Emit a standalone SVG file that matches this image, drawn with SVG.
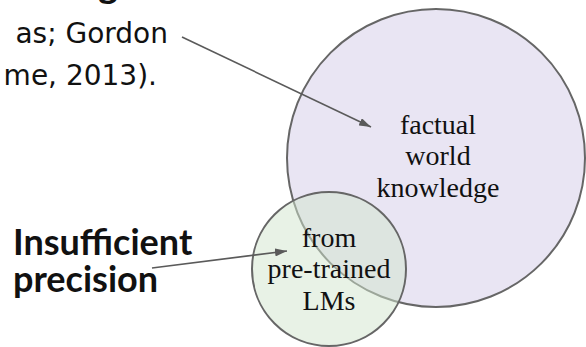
<svg xmlns="http://www.w3.org/2000/svg" width="586" height="347" viewBox="0 0 586 347">
  <style>
    .sans { font-family: "Lato", "Open Sans", "Liberation Sans", sans-serif; fill: #111; }
    .cite { font-family: "DejaVu Sans", "Liberation Sans", sans-serif; fill: #111; font-size: 28px; text-anchor: end; }
    .bold { font-weight: bold; }
    .serif { font-family: "Liberation Serif", "DejaVu Serif", serif; font-size: 28px; fill: #111; text-anchor: middle; }
    .conn { stroke: #5a5a5a; stroke-width: 1.6; fill: none; marker-end: url(#head); }
  </style>
  <defs>
    <marker id="head" viewBox="0 0 12 8" refX="12" refY="4" markerWidth="12" markerHeight="8" markerUnits="userSpaceOnUse" orient="auto">
      <path d="M0,0 L12,4 L0,8 Z" fill="#5a5a5a"/>
    </marker>
  </defs>
  <rect width="586" height="347" fill="#ffffff"/>

  <!-- large set: factual world knowledge -->
  <g id="world-knowledge">
    <circle cx="436" cy="158" r="149" fill="#e9e5f3" stroke="#666666" stroke-width="2"/>
    <text class="serif" x="438" y="134">factual</text>
    <text class="serif" x="438" y="165">world</text>
    <text class="serif" x="438" y="197">knowledge</text>
  </g>

  <!-- small set: knowledge from pre-trained LMs -->
  <g id="pretrained-lms">
    <circle cx="329" cy="269" r="77" fill="#d1e5cd" fill-opacity="0.5" stroke="#666666" stroke-width="2"/>
    <text class="serif" x="329" y="247">from</text>
    <text class="serif" x="329" y="278">pre-trained</text>
    <text class="serif" x="329" y="310">LMs</text>
  </g>

  <!-- citation text -->
  <g id="citation">
    <text class="sans bold" x="118" y="-2" font-size="38" text-anchor="end">g</text>
    <text class="cite" x="168" y="43">as; Gordon</text>
    <text class="cite" x="157" y="85">me, 2013).</text>
  </g>

  <!-- precision label -->
  <g id="precision">
    <text class="sans bold" x="13" y="255" font-size="36">Insufficient</text>
    <text class="sans bold" x="13" y="292" font-size="36">precision</text>
  </g>

  <g id="connectors">
    <line class="conn" x1="182" y1="37" x2="371" y2="127"/>
    <line class="conn" x1="152" y1="268" x2="287" y2="251"/>
  </g>
</svg>
